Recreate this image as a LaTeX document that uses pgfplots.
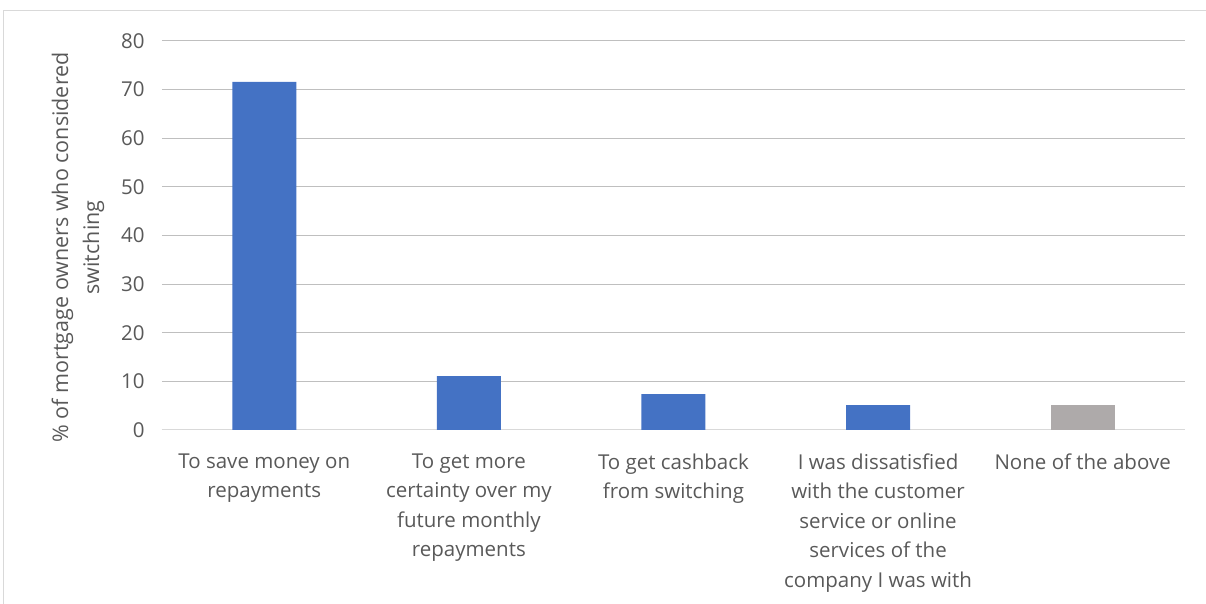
\documentclass[border=0pt]{standalone}
\usepackage{pgfplots}
\pgfplotsset{compat=1.18}
\usepackage{fontspec}
\setmainfont{Open Sans}
\definecolor{txt}{HTML}{595959}
\definecolor{grid}{HTML}{D9D9D9}
\definecolor{barblue}{HTML}{4472C4}
\definecolor{bargray}{HTML}{AEAAAA}
\begin{document}
\begin{tikzpicture}[x=1bp,y=1bp]
\useasboundingbox (-162,-174) rectangle (1044,430);
\draw[grid,line width=1bp] (-158,-180) -- (-158,419) -- (1050,419);
\begin{axis}[
  at={(0,0)}, anchor=south west,
  scale only axis,
  width=1023bp, height=389bp,
  xmin=-0.5, xmax=4.5, ymin=0, ymax=80,
  ytick={0,10,...,80},
  xtick={0,1,2,3,4},
  xticklabels={{To save money on\\repayments},{To get more\\certainty over my\\future monthly\\repayments},{To get cashback\\from switching},{I was dissatisfied\\with the customer\\service or online\\services of the\\company I was with},{None of the above}},
  axis line style={draw=none},
  ymajorgrids, xmajorgrids=false, grid style={grid, line width=1bp},
  major tick length=0pt,
  tick style={draw=none},
  /pgf/number format/assume math mode=true,
  yticklabel style={font=\fontsize{20.5bp}{24bp}\selectfont, text=txt, xshift=-14bp},
  xticklabel style={font=\fontsize{20.5bp}{29.5bp}\selectfont, text=txt, align=center, anchor=north, yshift=-20bp},
  ylabel={\% of mortgage owners who considered\\switching},
  ylabel style={font=\fontsize{21.5bp}{31bp}\selectfont, text=txt, align=center, xshift=-12bp},
  ylabel shift=10bp,
  clip=false,
]
\draw[grid, line width=1bp] (axis cs:-0.5,0) -- (axis cs:4.5,0);
\addplot[ybar, bar width=64bp, fill=barblue, draw=none] coordinates {(0,71.6) (1,11.1) (2,7.4) (3,5.1)};
\addplot[ybar, bar width=64bp, fill=bargray, draw=none] coordinates {(4,5.1)};
\end{axis}
\end{tikzpicture}
\end{document}
